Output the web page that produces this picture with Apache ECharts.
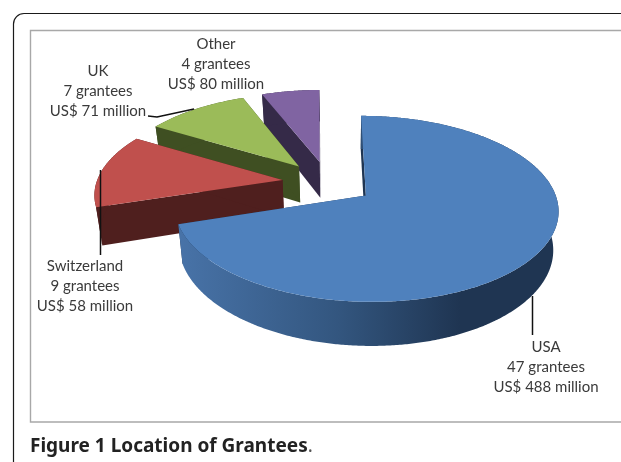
<!DOCTYPE html>
<html>
<head>
<meta charset="utf-8">
<style>html,body{margin:0;padding:0;background:#fff}#main{width:621px;height:462px}</style>
<script src="https://cdn.jsdelivr.net/npm/echarts@6/dist/echarts.min.js"></script>
</head>
<body>
<div id="main"></div>
<script>
var countries = ['USA', 'Switzerland', 'UK', 'Other'];
var grantees = [47, 9, 7, 4];
var millions = [488, 58, 71, 80];

var topColors = ['#4f81bd', '#c0504d', '#9bbb59', '#8064a2'];
var sideColors = ['#1f3552', '#4f1f1e', '#3f4f22', '#352a48'];

// pie geometry, the pie is tilted and seen in perspective
var cx = 328, cy = 182.5, radius = 186, explode = 46;
var tilt = 0.47, persp = 0.14, depth = 37, vanishX = 345, bottomScale = 0.975;

// label block centres and leader lines
var labelPos = [[546, 347], [85, 266], [98, 71], [216, 44]];
var leaders = [
  [[532.5, 296], [532.5, 335]],
  [[100.5, 170], [100.5, 255]],
  [[148, 116], [157, 117], [194, 109]]
];

function project(X, Y, bottom) {
  var s = 1 / (1 - persp * Y / radius);
  var x = cx + X * s;
  var y = cy + tilt * Y * s;
  if (bottom) {
    x = vanishX + (x - vanishX) * bottomScale;
    y = y + depth * s;
  }
  return [x, y];
}

function rad(d) { return d * Math.PI / 180; }

function renderSlice(params, api) {
  var a0 = api.value(0), a1 = api.value(1), i = api.value(2);
  var mid = rad((a0 + a1) / 2);
  var ox = explode * Math.sin(mid), oy = -explode * Math.cos(mid);
  var arcTop = [], arcBottom = [];
  for (var a = a0; a <= a1 + 0.001; a += 0.5) {
    var X = ox + radius * Math.sin(rad(a));
    var Y = oy - radius * Math.cos(rad(a));
    arcTop.push(project(X, Y, false));
    arcBottom.push(project(X, Y, true));
  }
  var apexTop = project(ox, oy, false), apexBottom = project(ox, oy, true);
  var last = arcTop.length - 1;
  var side = sideColors[i];
  var arcFill = side;
  if (i === 0) {
    arcFill = new echarts.graphic.LinearGradient(0, 0, 1, 0, [
      { offset: 0, color: '#4873a8' },
      { offset: 0.42, color: '#33567f' },
      { offset: 0.74, color: '#1f3552' },
      { offset: 1, color: '#1f3552' }
    ]);
  }
  function poly(points, fill) {
    return { type: 'polygon', shape: { points: points }, style: { fill: fill, stroke: null } };
  }
  return {
    type: 'group',
    children: [
      poly([apexTop, arcTop[0], arcBottom[0], apexBottom], side),
      poly([apexTop, arcTop[last], arcBottom[last], apexBottom], side),
      poly(arcTop.concat(arcBottom.slice().reverse()), arcFill),
      poly([apexTop].concat(arcTop), topColors[i])
    ]
  };
}

// slice angles, clockwise from 12 o'clock, farthest slice drawn first
var total = grantees.reduce(function (a, b) { return a + b; }, 0);
var sliceData = [];
var acc = 0;
grantees.forEach(function (g, i) {
  sliceData.unshift([acc / total * 360, (acc + g) / total * 360, i]);
  acc += g;
});

var frameLine = { fill: null, stroke: '#1a1a1a', lineWidth: 1.2 };
var graphics = [
  { type: 'polyline', silent: true, z: 1, shape: { points: [[13.5, 462], [13.5, 24]] }, style: frameLine },
  { type: 'arc', silent: true, z: 1, shape: { cx: 24, cy: 24, r: 10.5, startAngle: Math.PI, endAngle: Math.PI * 1.5 }, style: frameLine },
  { type: 'polyline', silent: true, z: 1, shape: { points: [[24, 13.5], [621, 13.5]] }, style: frameLine },
  { type: 'polyline', silent: true, z: 1,
    shape: { points: [[621, 30.5], [30.5, 30.5], [30.5, 422], [621, 422]] },
    style: { fill: null, stroke: '#a8a8a8', lineWidth: 1.4 } },
  { type: 'text', silent: true, z: 20, x: 30, y: 447,
    style: {
      text: '{b|Figure 1 Location of Grantees}{n|.}',
      verticalAlign: 'middle',
      rich: {
        b: { fontFamily: 'Noto Sans', fontWeight: 'bold', fontSize: 19, fill: '#222' },
        n: { fontFamily: 'Noto Sans', fontSize: 19, fill: '#555' }
      }
    } }
];
leaders.forEach(function (pts) {
  graphics.push({ type: 'polyline', silent: true, z: 20, shape: { points: pts },
    style: { fill: null, stroke: '#111', lineWidth: 1.5 } });
});
countries.forEach(function (c, i) {
  var lines = [c, grantees[i] + ' grantees', 'US$ ' + millions[i] + ' million'];
  lines.forEach(function (t, j) {
    graphics.push({ type: 'text', silent: true, z: 20,
      x: labelPos[i][0], y: labelPos[i][1] + j * 20,
      style: { text: t, align: 'center', verticalAlign: 'middle',
        fontFamily: 'Lato', fontSize: 15, fill: '#3a3a3a' } });
  });
});

var chart = echarts.init(document.getElementById('main'));
chart.setOption({
  animation: false,
  backgroundColor: '#fff',
  graphic: graphics,
  series: [{
    type: 'custom',
    coordinateSystem: 'none',
    silent: true,
    z: 5,
    data: sliceData,
    renderItem: renderSlice
  }]
});
</script>
</body>
</html>
